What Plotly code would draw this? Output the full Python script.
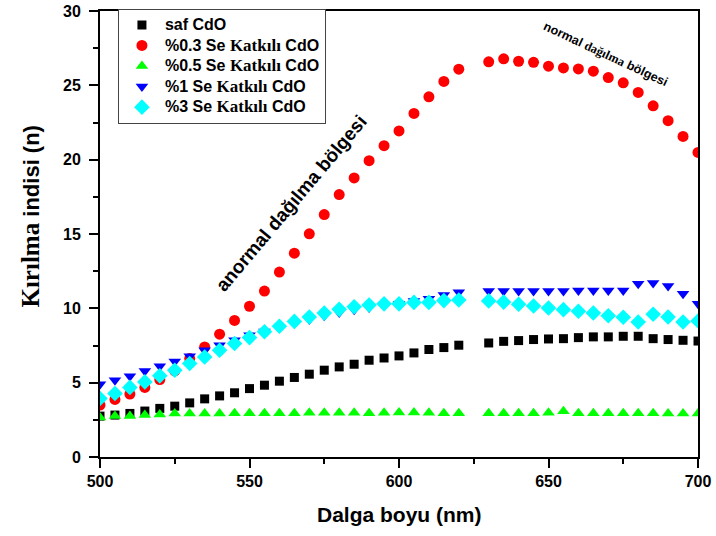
import plotly.graph_objects as go

wavelength = [500, 505, 510, 515, 520, 525, 530, 535, 540, 545, 550, 555, 560, 565, 570,
              575, 580, 585, 590, 595, 600, 605, 610, 615, 620,
              630, 635, 640, 645, 650, 655, 660, 665, 670, 675, 680, 685, 690, 695, 700]

saf_cdo = [2.75, 2.82, 2.93, 3.09, 3.27, 3.42, 3.64, 3.91, 4.11, 4.32, 4.60, 4.83, 5.10, 5.35, 5.57,
           5.84, 6.06, 6.24, 6.51, 6.66, 6.80, 7.00, 7.23, 7.36, 7.52,
           7.67, 7.78, 7.83, 7.90, 7.94, 7.96, 8.03, 8.08, 8.08, 8.12, 8.12, 7.96, 7.90, 7.85, 7.80]

se_03 = [3.49, 3.87, 4.23, 4.68, 5.21, 5.79, 6.62, 7.40, 8.26, 9.19, 10.14, 11.16, 12.44, 13.71, 15.01,
         16.31, 17.65, 18.77, 19.93, 20.94, 21.93, 23.11, 24.23, 25.26, 26.09,
         26.58, 26.78, 26.62, 26.55, 26.29, 26.17, 26.10, 25.95, 25.52, 25.17, 24.52, 23.62, 22.62, 21.56, 20.49]

se_05 = [2.66, 2.75, 2.75, 2.82, 2.86, 2.93, 2.93, 2.93, 2.93, 2.95, 2.95, 2.95, 2.95, 2.95, 2.97,
         2.97, 2.97, 2.97, 2.95, 2.97, 2.99, 2.99, 2.97, 2.95, 2.95,
         2.95, 2.95, 2.95, 2.95, 2.97, 3.08, 2.95, 2.95, 2.95, 2.95, 2.95, 2.95, 2.93, 2.93, 2.93]

se_1 = [4.90, 5.17, 5.44, 5.79, 6.11, 6.42, 6.78, 7.18, 7.52, 7.85, 8.19, 8.45, 8.70, 9.00, 9.25,
        9.50, 9.72, 9.90, 10.05, 10.20, 10.30, 10.49, 10.65, 10.90, 11.09,
        11.16, 11.16, 11.16, 11.16, 11.16, 11.16, 11.20, 11.20, 11.20, 11.20, 11.65, 11.70, 11.50, 10.98, 10.30]

se_3 = [3.94, 4.27, 4.68, 5.05, 5.46, 5.84, 6.29, 6.73, 7.18, 7.63, 8.03, 8.42, 8.79, 9.12, 9.42,
        9.68, 9.93, 10.11, 10.22, 10.30, 10.30, 10.40, 10.40, 10.52, 10.56,
        10.50, 10.42, 10.27, 10.16, 10.02, 9.91, 9.80, 9.69, 9.50, 9.40, 9.08, 9.60, 9.42, 9.08, 9.15]

SANS = "Liberation Sans, Arial, sans-serif"
SERIF = "Liberation Serif, Times New Roman, serif"


def katkili(prefix):
    return (f"<span style='font-size:16px'>{prefix} "
            f"<span style='font-family:{SERIF};font-size:17px'>Katkılı</span> CdO</span>")


series = [
    ("<span style='font-size:16px'>saf CdO</span>", saf_cdo, "square", "#000000", 9),
    (katkili("%0.3 Se"), se_03, "circle", "#FF0000", 11),
    (katkili("%0.5 Se"), se_05, "triangle-up", "#00FF00", 11),
    (katkili("%1 Se"), se_1, "triangle-down", "#0000FF", 11),
    (katkili("%3 Se"), se_3, "diamond", "#00FFFF", 12),
]

fig = go.Figure()
for name, vals, sym, col, sz in series:
    fig.add_trace(go.Scatter(
        x=wavelength, y=vals, mode="markers", name=name,
        marker=dict(symbol=sym, color=col, size=sz, line=dict(width=0)),
    ))

axis_font = dict(family=SANS, size=16, color="black", weight="bold")

fig.update_layout(
    width=716, height=536,
    margin=dict(l=100, r=18, t=10, b=79),
    paper_bgcolor="white", plot_bgcolor="white",
    showlegend=True,
    legend=dict(
        x=0.03, y=1.003, xanchor="left", yanchor="top",
        bordercolor="#444444", borderwidth=1, bgcolor="white",
        font=dict(family=SANS, size=13.5, color="black", weight="bold"),
        tracegroupgap=0, itemsizing="trace", itemwidth=36,
    ),
    xaxis=dict(
        range=[500, 700], tickvals=[500, 550, 600, 650, 700], automargin=False,
        ticks="outside", ticklen=9, tickwidth=2, tickcolor="black",
        minor=dict(tickvals=[525, 575, 625, 675], ticks="outside", ticklen=5, tickwidth=2, tickcolor="black"),
        showline=True, linewidth=2, linecolor="black", mirror=True,
        showgrid=False, zeroline=False, tickfont=axis_font,
    ),
    yaxis=dict(
        range=[0, 30], tickvals=[0, 5, 10, 15, 20, 25, 30], automargin=False,
        ticks="outside", ticklen=9, tickwidth=2, tickcolor="black", ticklabelstandoff=5,
        minor=dict(tickvals=[2.5, 7.5, 12.5, 17.5, 22.5, 27.5], ticks="outside", ticklen=5, tickwidth=2, tickcolor="black"),
        showline=True, linewidth=2, linecolor="black", mirror=True,
        showgrid=False, zeroline=False, tickfont=axis_font,
    ),
    annotations=[
        dict(text="Dalga boyu (nm)",
             xref="paper", yref="paper", x=0.5, y=(457 - 515) / 447,
             showarrow=False, xanchor="center", yanchor="middle",
             font=dict(family=SANS, size=21, color="black", weight="bold")),
        dict(text=f"<span style='font-family:{SERIF};font-size:25px'>Kırılma</span> indisi (n)",
             xref="paper", yref="paper", x=(31 - 100) / 598, y=(457 - 216) / 447,
             textangle=-90, showarrow=False, xanchor="center", yanchor="middle",
             font=dict(family=SANS, size=22, color="black", weight="bold")),
        dict(text="anormal dağılma bölgesi",
             xref="paper", yref="paper", x=(291 - 100) / 598, y=(457 - 203) / 447,
             textangle=-50, showarrow=False, xanchor="center", yanchor="middle",
             font=dict(family=SANS, size=19, color="black", weight="bold")),
        dict(text=f"normal <span style='font-family:{SERIF}'>dağılma</span> bölgesi",
             xref="paper", yref="paper", x=(605 - 100) / 598, y=(457 - 53) / 447,
             textangle=25, showarrow=False, xanchor="center", yanchor="middle",
             font=dict(family=SANS, size=12.5, color="black", weight="bold")),
    ],
)

fig.write_html("out.html")
